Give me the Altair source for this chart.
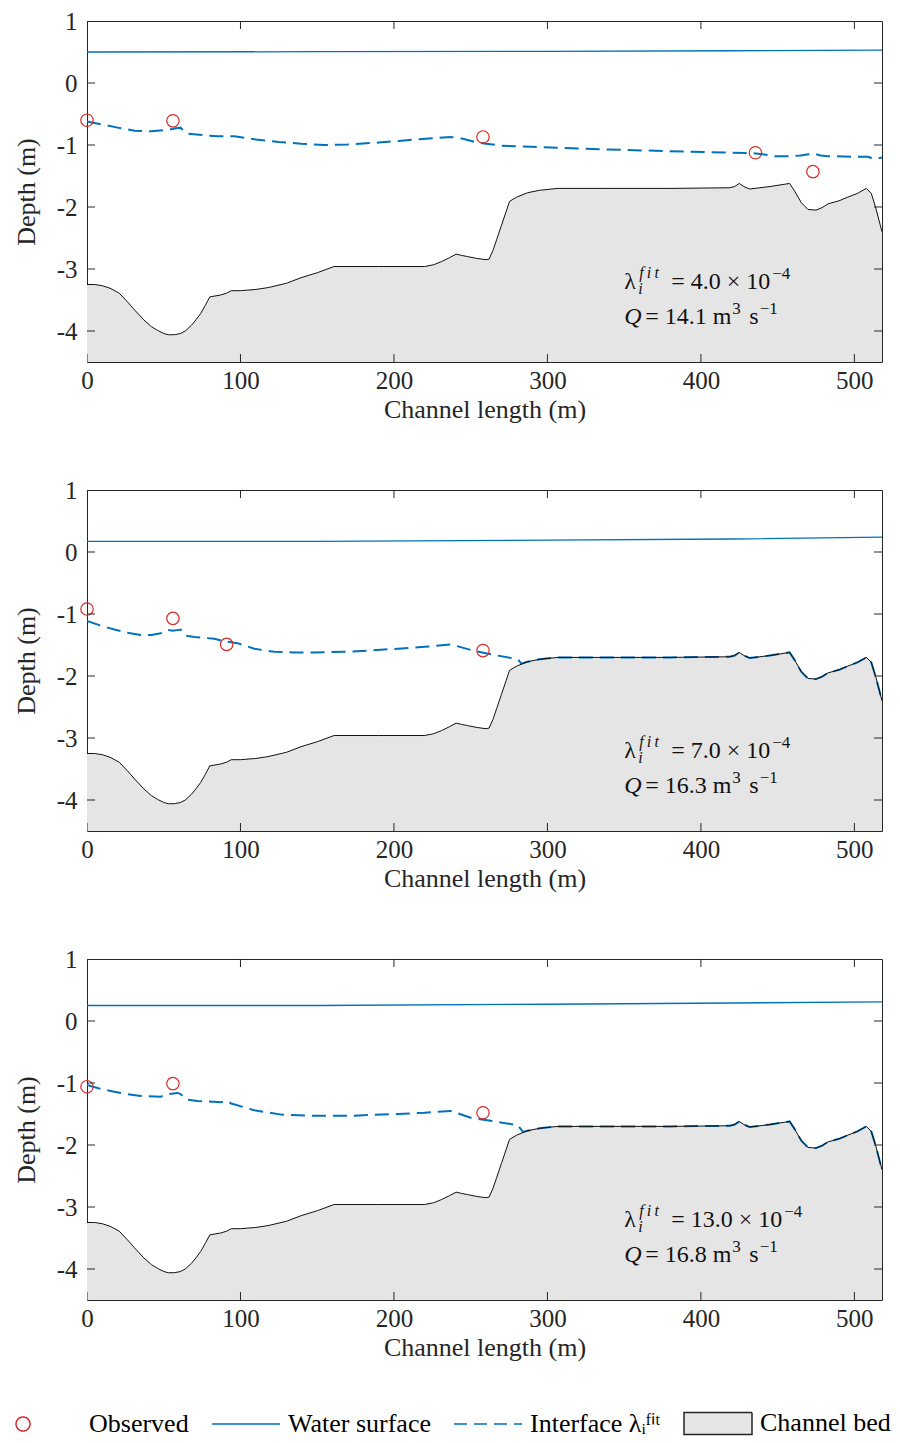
import altair as alt
import pandas as pd

# ---------------- data ----------------
bed_x = [0, 5, 10, 15, 21, 26, 31, 37, 42, 46, 50, 53, 57, 61, 64, 68, 71, 74, 77, 80,
         87, 91, 94, 100, 110, 118, 130, 139.5, 150, 161, 190, 220, 226, 231, 236, 240.5,
         244, 248, 254, 260, 262, 264.5, 267, 270, 273, 275.3, 280, 287, 295, 306.8, 335,
         380, 418.7, 422, 425, 428, 431.7, 445, 457.8, 461, 465.4, 469.8, 475, 479, 482.8,
         490, 495.8, 502, 507.8, 511, 514, 518]
bed_y = [-3.25, -3.25, -3.27, -3.31, -3.39, -3.52, -3.66, -3.82, -3.93, -3.99, -4.04, -4.06,
         -4.06, -4.04, -4.00, -3.91, -3.82, -3.72, -3.59, -3.45, -3.42, -3.39, -3.35, -3.35,
         -3.33, -3.30, -3.23, -3.14, -3.06, -2.96, -2.96, -2.96, -2.93, -2.88, -2.82, -2.76,
         -2.78, -2.80, -2.83, -2.85, -2.84, -2.70, -2.52, -2.30, -2.08, -1.91, -1.84, -1.77,
         -1.73, -1.70, -1.70, -1.70, -1.69, -1.67, -1.62, -1.67, -1.71, -1.67, -1.62, -1.74,
         -1.93, -2.04, -2.05, -2.01, -1.95, -1.90, -1.84, -1.78, -1.70, -1.78, -2.02, -2.40]

ws_x = [0, 150, 300, 420, 518]
ws1_y = [0.50, 0.505, 0.51, 0.52, 0.53]
ws2_y = [0.17, 0.17, 0.19, 0.21, 0.24]
ws3_y = [0.25, 0.25, 0.27, 0.29, 0.31]

if1_x = [0, 10, 20, 31, 42, 50, 55, 58, 61, 63, 66, 75, 85, 96, 110, 125, 139.5, 155, 170,
         190, 205, 225, 237, 245, 252.5, 260, 270, 290, 335, 380, 433, 440, 448, 457, 465,
         470, 474, 478, 483, 500, 509, 512, 515, 518]
if1_y = [-0.62, -0.67, -0.72, -0.77, -0.78, -0.76, -0.745, -0.73, -0.72, -0.78, -0.82, -0.84,
         -0.86, -0.86, -0.91, -0.95, -0.98, -1.00, -0.99, -0.96, -0.93, -0.89, -0.87, -0.90,
         -0.95, -0.98, -1.01, -1.03, -1.07, -1.10, -1.13, -1.15, -1.18, -1.18, -1.17, -1.15,
         -1.14, -1.17, -1.18, -1.19, -1.19, -1.22, -1.22, -1.20]

if2_x = [0, 8, 17.8, 26, 35, 42, 48, 53, 56, 58.5, 61, 64.5, 70, 83, 89.5, 98, 109, 122,
         135, 148, 170, 202.5, 220, 237, 250, 263, 280.7, 283]
if2_y = [-1.11, -1.18, -1.25, -1.30, -1.34, -1.34, -1.31, -1.26, -1.27, -1.26, -1.25, -1.35,
         -1.37, -1.40, -1.44, -1.47, -1.56, -1.61, -1.62, -1.62, -1.61, -1.56, -1.53, -1.49,
         -1.58, -1.65, -1.73, -1.80]

if3_x = [0, 8, 17.8, 26, 35, 48, 53, 59, 61, 65.6, 72, 87, 91, 94, 109, 126.5, 148, 170,
         202.5, 220, 237, 250, 263, 280.7, 284]
if3_y = [-1.03, -1.09, -1.14, -1.18, -1.21, -1.22, -1.18, -1.16, -1.18, -1.27, -1.29, -1.31,
         -1.29, -1.33, -1.44, -1.51, -1.53, -1.53, -1.50, -1.48, -1.45, -1.56, -1.61, -1.68,
         -1.79]

obs1_x = [0, 56, 258, 435.5, 473]
obs1_y = [-0.60, -0.61, -0.87, -1.125, -1.43]
obs2_x = [0, 56, 91, 258]
obs2_y = [-0.92, -1.07, -1.49, -1.59]
obs3_x = [0, 56, 258]
obs3_y = [-1.06, -1.01, -1.48]

lam_vals = ["4.0", "7.0", "13.0"]
q_vals = ["14.1", "16.3", "16.8"]

x_ticks = [0, 100, 200, 300, 400, 500]
y_ticks = [-4, -3, -2, -1, 0, 1]

legend_labels = ["Observed", "Water surface", "Interface \u03bb\u1d62\u1da0\u2071\u1d57", "Channel bed"]

# ---------------- style ----------------
FONT = "Liberation Serif"
TXT = "#262626"
BLUE = "#0072BD"
RED = "#D62A2A"
BEDFILL = "#E5E5E5"
W, H = 795, 341
X0, X1 = 0, 518
Y0, Y1 = -4.5, 1
XS = alt.Scale(domain=[X0, X1], nice=False, zero=False)
YS = alt.Scale(domain=[Y0, Y1], nice=False, zero=False)

XAXIS = alt.Axis(values=x_ticks, title="Channel length (m)", titleY=47,
                 titleBaseline="middle", labelPadding=6, format="d")
YAXIS = alt.Axis(values=y_ticks, title="Depth (m)", titleX=-61, titleY=H / 2,
                 titleBaseline="middle", labelPadding=10,
                 labelExpr="'' + datum.value")

ANN_X = 350
ANN_Y1 = -3.33
ANN_Y2 = -3.89

_tw = {"=": 0.564, " ": 0.25, ".": 0.25, "\u00d7": 0.564, "m": 0.778, "s": 0.389}


def tw(s, size):
    return sum(_tw.get(c, 0.5) for c in s) * size


def px(field):
    return alt.X(field, type="quantitative", scale=XS, axis=XAXIS)


def py(field):
    return alt.Y(field, type="quantitative", scale=YS, axis=YAXIS)


def piece(text, yv, dx, dy, size, italic=False):
    df = pd.DataFrame({"x": [ANN_X], "y": [yv], "t": [text]})
    return alt.Chart(df).mark_text(
        align="left", baseline="alphabetic", dx=dx, dy=dy, font=FONT,
        fontSize=size, fontStyle="italic" if italic else "normal", color="#111111",
    ).encode(x=px("x"), y=py("y"), text="t:N")


def panel(ws_y, ifx, ify, obsx, obsy, lam, q, with_legend=False):
    bed_df = pd.DataFrame({"x": bed_x, "y": bed_y})
    area = alt.Chart(bed_df).mark_area(color=BEDFILL, clip=True).encode(
        x=px("x"), y=py("y"), y2=alt.datum(Y0))
    bedline = alt.Chart(bed_df).mark_line(color="#111111", strokeWidth=1, clip=True).encode(
        x=px("x"), y=py("y"))
    water = alt.Chart(pd.DataFrame({"x": ws_x, "y": ws_y})).mark_line(
        color=BLUE, strokeWidth=1.3, clip=True).encode(x=px("x"), y=py("y"))
    inter = alt.Chart(pd.DataFrame({"x": ifx, "y": ify})).mark_line(
        color=BLUE, strokeWidth=2, strokeDash=[14, 7], clip=True).encode(x=px("x"), y=py("y"))
    obs = alt.Chart(pd.DataFrame({"x": obsx, "y": obsy})).mark_point(
        shape="circle", size=154, color=RED, filled=False, strokeWidth=1.2, opacity=1
    ).encode(x=px("x"), y=py("y"))

    tick_style = dict(color=TXT, thickness=1, size=16, opacity=1, clip=True)
    xt = pd.DataFrame({"x": x_ticks})
    yt = pd.DataFrame({"y": y_ticks})
    ticks = []
    for yv in (Y0, Y1):
        ticks.append(alt.Chart(xt).mark_tick(orient="vertical", **tick_style).encode(
            x=px("x"), y=alt.YDatum(yv, scale=YS, axis=YAXIS)))
    for xv in (X0, X1):
        ticks.append(alt.Chart(yt).mark_tick(orient="horizontal", **tick_style).encode(
            y=py("y"), x=alt.XDatum(xv, scale=XS, axis=XAXIS)))

    main1 = "= " + lam + " \u00d7 10"
    main2 = "= " + q + " m"
    d2 = 21
    d_sup3 = d2 + tw(main2, 24) + 1
    d_s = d_sup3 + 17
    texts = [
        piece("\u03bb", ANN_Y1, 0, 0, 24),
        piece("i", ANN_Y1, 14, 5, 16, italic=True),
        piece("f\u2009i\u2009t", ANN_Y1, 15, -11, 16, italic=True),
        piece(main1, ANN_Y1, 47, 0, 24),
        piece("\u22124", ANN_Y1, 47 + tw(main1, 24) + 2, -10, 17),
        piece("Q", ANN_Y2, 0, 0, 24, italic=True),
        piece(main2, ANN_Y2, d2, 0, 24),
        piece("3", ANN_Y2, d_sup3, -10, 17),
        piece("s", ANN_Y2, d_s, 0, 24),
        piece("\u22121", ANN_Y2, d_s + 0.389 * 24 + 1, -10, 17),
    ]

    layers = [area, inter, water, bedline, obs] + ticks + texts

    if with_legend:
        leg = alt.Legend(
            title=None, orient="none", legendX=-74, legendY=1384, direction="horizontal",
            padding=0, labelFont=FONT, labelFontSize=26, labelColor="black",
            labelOffset=24, symbolOffset=16, symbolSize=34 * 34, symbolStrokeWidth=1.5,
            columnPadding=20, labelLimit=400, symbolFillColor="transparent",
        )
        circle_path = ("M-0.998,0A0.412,0.412,0,1,1,-1.822,0"
                       "A0.412,0.412,0,1,1,-0.998,0Z")
        line_path = "M-2,0H2"
        box_path = "M-2,-0.65H2V0.65H-2Z"
        dummy = alt.Chart(pd.DataFrame({"series": legend_labels})).mark_point(
            filled=False, opacity=1, clip=True
        ).encode(
            x=alt.XDatum(-30, scale=XS, axis=XAXIS),
            y=alt.YDatum(0, scale=YS, axis=YAXIS),
            color=alt.Color("series:N", scale=alt.Scale(
                domain=legend_labels, range=[RED, BLUE, BLUE, TXT]), legend=leg),
            fill=alt.Fill("series:N", scale=alt.Scale(
                domain=legend_labels,
                range=["transparent", "transparent", "transparent", BEDFILL]), legend=leg),
            shape=alt.Shape("series:N", scale=alt.Scale(
                domain=legend_labels, range=[circle_path, line_path, line_path, box_path]),
                legend=leg),
            strokeDash=alt.StrokeDash("series:N", scale=alt.Scale(
                domain=legend_labels, range=[[1, 0], [1, 0], [13, 7], [1, 0]]), legend=leg),
        )
        layers.append(dummy)

    return alt.layer(*layers).properties(width=W, height=H)


p1 = panel(ws1_y, if1_x, if1_y, obs1_x, obs1_y, lam_vals[0], q_vals[0])
p2 = panel(ws2_y, if2_x + [x for x in bed_x if x > 285],
           if2_y + [y for x, y in zip(bed_x, bed_y) if x > 285],
           obs2_x, obs2_y, lam_vals[1], q_vals[1])
p3 = panel(ws3_y, if3_x + [x for x in bed_x if x > 285],
           if3_y + [y for x, y in zip(bed_x, bed_y) if x > 285],
           obs3_x, obs3_y, lam_vals[2], q_vals[2], with_legend=True)

chart = alt.vconcat(p1, p2, p3, spacing=54).properties(
    padding={"top": 0, "left": 4, "right": 0, "bottom": 0}
).configure_view(
    stroke=TXT, strokeWidth=1
).configure_axis(
    labelFont=FONT, labelFontSize=25, labelColor=TXT,
    titleFont=FONT, titleFontSize=26, titleColor=TXT, titleFontWeight="normal",
    grid=False, domain=False, ticks=False, tickSize=0, labelFlush=False,
)

chart.save("out.html", embed_options={"renderer": "svg", "actions": False})
